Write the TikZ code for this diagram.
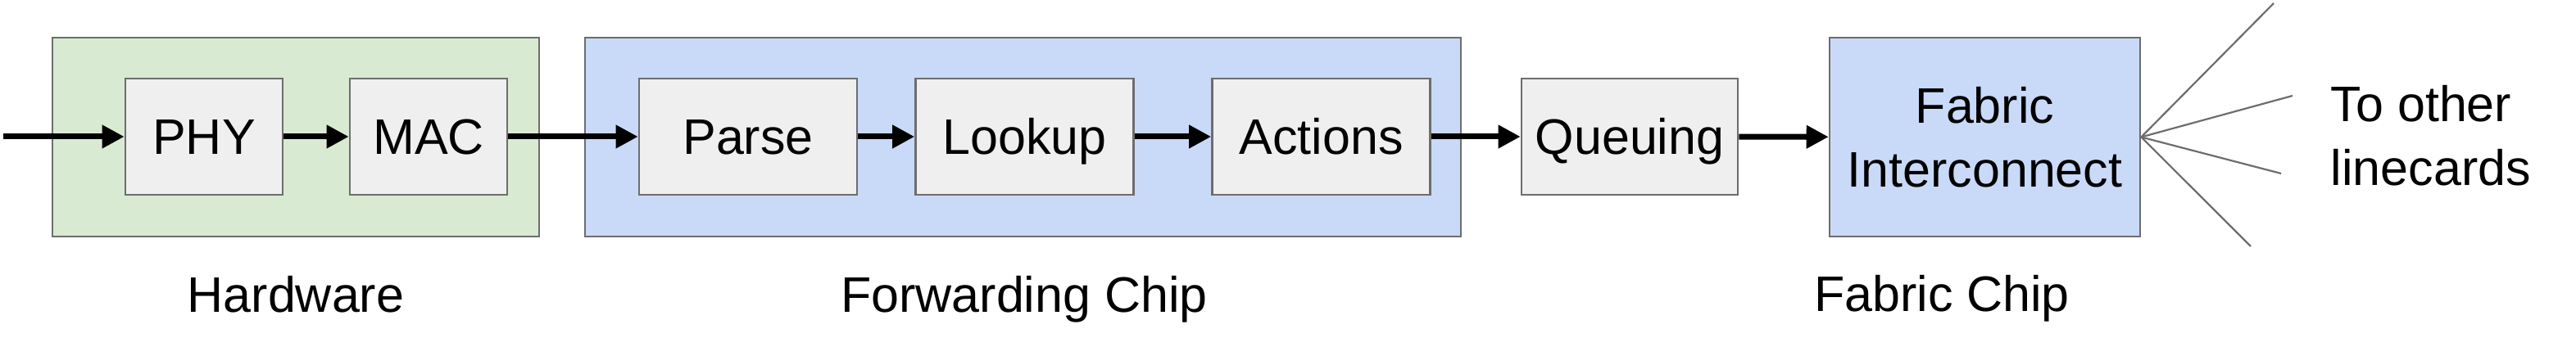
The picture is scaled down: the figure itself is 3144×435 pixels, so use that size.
\documentclass[tikz,border=0pt]{standalone}
\usepackage{fontspec}
\setmainfont{Liberation Sans}
\usetikzlibrary{arrows.meta}
\definecolor{hwgreen}{HTML}{D9EAD3}
\definecolor{chipblue}{HTML}{C9DAF8}
\definecolor{boxgray}{HTML}{EFEFEF}
\definecolor{edgegray}{HTML}{6D6D6D}
\begin{document}
\begin{tikzpicture}[x=0.25pt,y=-0.25pt,
  lbl/.style={font=\fontsize{15.25pt}{19.5pt}\selectfont, inner sep=0pt},
  outerbox/.style={draw=edgegray, line width=0.65pt, minimum height=60.75pt, inner sep=0pt},
  stagebox/.style={draw=edgegray, line width=0.65pt, fill=boxgray, minimum height=35.5pt,
    inner sep=0pt, text height=10.9pt, text depth=0pt, font=\fontsize{15.25pt}{19.5pt}\selectfont},
  flow/.style={line width=1.75pt, -{Triangle[length=6.75pt,width=6.75pt]}},
  fan/.style={draw=edgegray, line width=0.55pt}
  ]
\useasboundingbox (0,0) rectangle (3144,435);
% outer containers
\node[outerbox, fill=hwgreen, minimum width=148.5pt] (hw) at (361,167.5) {};
\node[outerbox, fill=chipblue, minimum width=267.25pt] (fwd) at (1248.5,167.5) {};
\node[outerbox, fill=chipblue, minimum width=94.75pt, align=center,
  font=\fontsize{15.25pt}{19.5pt}\selectfont] (fab) at (2422.5,167.5) {Fabric\\Interconnect};
% stages
\node[stagebox, minimum width=48pt] (phy) at (249,167) {PHY};
\node[stagebox, minimum width=48pt] (mac) at (523,167) {MAC};
\node[stagebox, minimum width=66.5pt] (parse) at (913,167) {Parse};
\node[stagebox, minimum width=66.5pt] (lookup) at (1250.5,167) {Lookup};
\node[stagebox, minimum width=66.5pt] (actions) at (1612.5,167) {Actions};
\node[stagebox, minimum width=66pt] (queue) at (1989,167) {Queuing};
% labels
\node[lbl, anchor=base] (hwl) at (361,382) {Hardware};
\node[lbl, anchor=base] (fwdl) at (1250,382) {Forwarding Chip};
\node[lbl, anchor=base] (fabl) at (2370,381) {Fabric Chip};
\node[lbl, anchor=west, align=left] (other) at (2844,166) {To other\\linecards};
% connectors
\coordinate (in) at (4,167);
\draw[flow] (in) -- (phy.west);
\draw[flow] (phy) -- (mac);
\draw[flow] (mac) -- (parse);
\draw[flow] (parse) -- (lookup);
\draw[flow] (lookup) -- (actions);
\draw[flow] (actions) -- (queue);
\draw[flow] (queue) -- (fab);
% fan-out lines
\coordinate (f1) at (2775,4);
\coordinate (f2) at (2798,117);
\coordinate (f3) at (2784,212);
\coordinate (f4) at (2747,301);
\draw[fan] (fab.east) -- (f1);
\draw[fan] (fab.east) -- (f2);
\draw[fan] (fab.east) -- (f3);
\draw[fan] (fab.east) -- (f4);
\end{tikzpicture}
\end{document}
